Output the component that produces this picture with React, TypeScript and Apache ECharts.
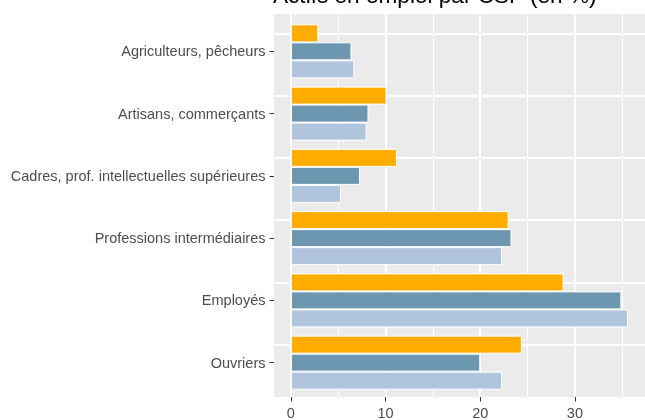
import React, { useEffect, useRef } from "react";
import * as echarts from "echarts";

const categories = [
  "Agriculteurs, pêcheurs",
  "Artisans, commerçants",
  "Cadres, prof. intellectuelles supérieures",
  "Professions intermédiaires",
  "Employés",
  "Ouvriers",
];
const seriesA = [2.9, 10.1, 11.2, 23.0, 28.8, 24.4];
const seriesB = [6.4, 8.2, 7.3, 23.3, 34.9, 20.0];
const seriesC = [6.7, 8.0, 5.3, 22.3, 35.6, 22.3];
const majorTicks = [0, 10, 20, 30];
const minorTicks = [5, 15, 25, 35];
const xMin = -1.78;
const xMax = 37.4;

const FONT = "'Liberation Sans', Arial, Helvetica, sans-serif";

export default function App() {
  const ref = useRef<HTMLDivElement>(null);
  useEffect(() => {
    if (!ref.current) return;
    const chart = echarts.init(ref.current, null, { renderer: "svg" });
    const panelLeft = 274;
    const panelTop = 14;
    const panelW = 375;
    const panelH = 386;
    const band = panelH / 6.2;
    const vLines = [
      ...minorTicks.map((v) => ({ xAxis: v, lineStyle: { width: 1 } })),
      ...majorTicks.map((v) => ({ xAxis: v, lineStyle: { width: 2 } })),
    ];
    const hLines = categories.map((_, i) => ({ yAxis: i, lineStyle: { width: 2 } }));
    const barStyle = (color: string) => ({
      color,
      borderColor: "#FFFFFF",
      borderWidth: 1,
    });
    chart.setOption({
      animation: false,
      textStyle: { fontFamily: FONT },
      title: {
        text: "Actifs en emploi par CSP (en %)",
        left: panelLeft - 1,
        top: -16,
        padding: 0,
        textStyle: { fontSize: 22.6, fontWeight: "normal", color: "#000000", fontFamily: FONT },
      },
      grid: [
        {
          left: panelLeft,
          top: panelTop,
          width: panelW,
          height: panelH,
          show: true,
          backgroundColor: "#EBEBEB",
          borderWidth: 0,
        },
        {
          left: panelLeft,
          top: panelTop + band * 0.1,
          width: panelW,
          height: band * 6,
          show: false,
        },
      ],
      xAxis: [
        {
          type: "value",
          gridIndex: 0,
          min: xMin,
          max: xMax,
          axisLine: { show: false, onZero: false },
          splitLine: { show: false },
          axisTick: {
            show: true,
            customValues: majorTicks,
            length: 4.5,
            lineStyle: { color: "#333333", width: 1 },
          },
          axisLabel: {
            customValues: majorTicks,
            margin: 8,
            fontSize: 14.5,
            color: "#4D4D4D",
            fontFamily: FONT,
          },
        },
        {
          type: "value",
          gridIndex: 1,
          min: xMin,
          max: xMax,
          show: false,
        },
      ],
      yAxis: [
        {
          type: "value",
          gridIndex: 0,
          min: 0,
          max: 1,
          show: false,
        },
        {
          type: "category",
          gridIndex: 1,
          data: categories,
          inverse: true,
          axisLine: { show: false, onZero: false },
          splitLine: { show: false },
          axisTick: {
            show: true,
            alignWithLabel: true,
            length: 4.5,
            lineStyle: { color: "#333333", width: 1 },
          },
          axisLabel: {
            margin: 8.5,
            fontSize: 14.5,
            color: "#4D4D4D",
            fontFamily: FONT,
          },
        },
      ],
      series: [
        {
          type: "scatter",
          xAxisIndex: 0,
          yAxisIndex: 0,
          data: [],
          silent: true,
          markLine: {
            silent: true,
            symbol: "none",
            z: 1,
            label: { show: false },
            lineStyle: { color: "#FFFFFF", type: "solid" },
            data: vLines,
          },
        },
        {
          type: "bar",
          name: "A",
          xAxisIndex: 1,
          yAxisIndex: 1,
          data: seriesA,
          barWidth: 18,
          barGap: "0%",
          z: 3,
          itemStyle: barStyle("#FFAC00"),
          markLine: {
            silent: true,
            symbol: "none",
            z: 1,
            label: { show: false },
            lineStyle: { color: "#FFFFFF", type: "solid" },
            data: hLines,
          },
        },
        {
          type: "bar",
          name: "B",
          xAxisIndex: 1,
          yAxisIndex: 1,
          data: seriesB,
          barWidth: 18,
          barGap: "0%",
          z: 3,
          itemStyle: barStyle("#6D97B0"),
        },
        {
          type: "bar",
          name: "C",
          xAxisIndex: 1,
          yAxisIndex: 1,
          data: seriesC,
          barWidth: 18,
          barGap: "0%",
          z: 3,
          itemStyle: barStyle("#B0C4DE"),
        },
      ],
    });
    return () => chart.dispose();
  }, []);
  return (
    <div
      ref={ref}
      style={{ position: "fixed", left: 0, top: 0, width: 645, height: 420 }}
    />
  );
}
